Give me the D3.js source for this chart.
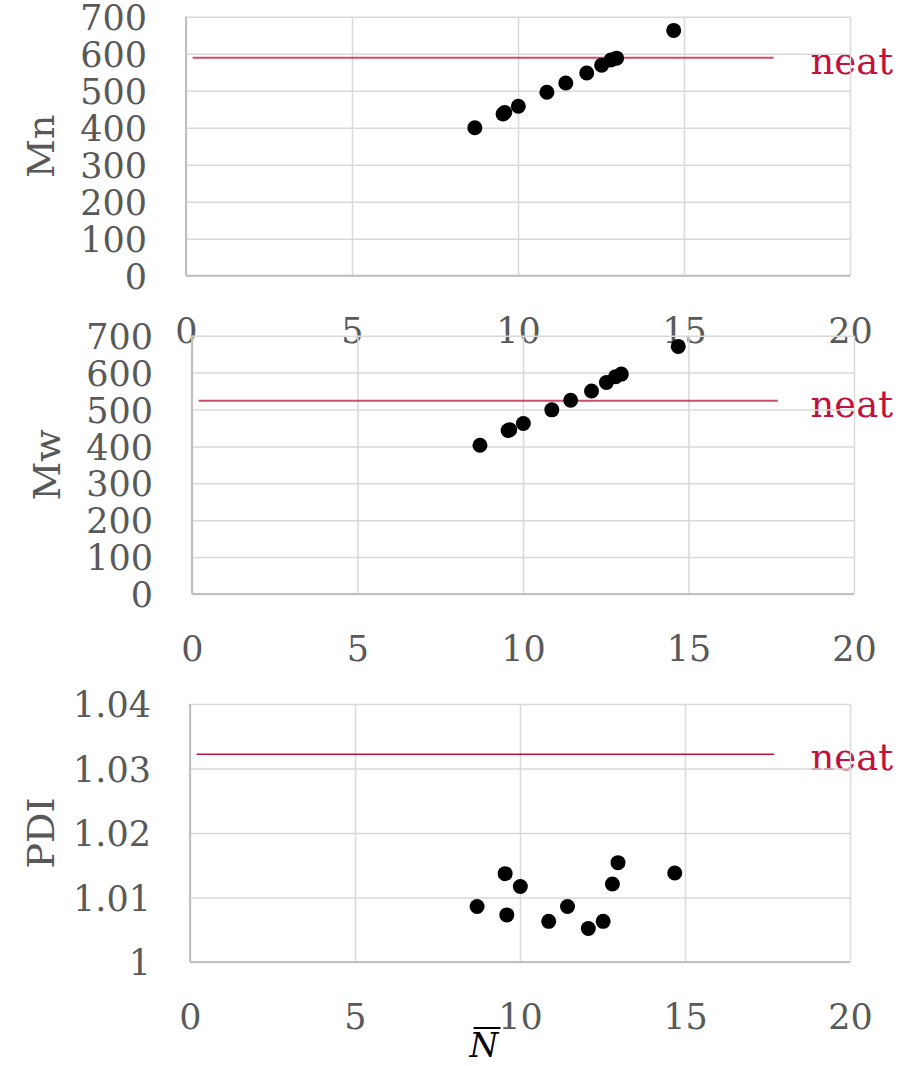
<!DOCTYPE html>
<html>
<head>
<meta charset="utf-8">
<script src="https://cdn.jsdelivr.net/npm/d3@7"></script>
<style>
  html, body { margin: 0; padding: 0; background: #fff; }
  svg { display: block; }
  text { font-family: "DejaVu Serif", "Liberation Serif", serif; }
</style>
</head>
<body>
<svg id="chart" width="922" height="1066"></svg>
<script>
// ---- data ----
const N   = [8.70, 9.55, 9.60, 10.01, 10.87, 11.44, 12.07, 12.52, 12.80, 12.97, 14.69];
const Mn  = [400, 437, 441, 458, 496, 521, 548, 569, 583, 588, 663];
const Mw  = [403, 443, 445, 462, 499, 525, 550, 573, 589, 596, 671];
const PDI = [1.0086, 1.0137, 1.0073, 1.0117, 1.0063, 1.0086, 1.0052, 1.0063, 1.0121, 1.0154, 1.0138];
const neatMn = 589, neatMw = 524, neatPDI = 1.0322;
const neatRange = [0.2, 17.7];
const xTicks = [0, 5, 10, 15, 20];
const mTicks = [0, 100, 200, 300, 400, 500, 600, 700];
const pdiTicks = [1, 1.01, 1.02, 1.03, 1.04];

// ---- layout ----
const panels = [
  {label: "Mn",  vals: Mn,  neat: neatMn,  ydom: [0, 700],   ticks: mTicks,   fmt: d3.format("d"),
   left: 186, right: 850, top: 16.7, bottom: 275.7},
  {label: "Mw",  vals: Mw,  neat: neatMw,  ydom: [0, 700],   ticks: mTicks,   fmt: d3.format("d"),
   left: 192, right: 854, top: 335.7, bottom: 594},
  {label: "PDI", vals: PDI, neat: neatPDI, ydom: [1, 1.04], ticks: pdiTicks, fmt: d => d === 1 ? "1" : d3.format(".2f")(d),
   left: 190, right: 850, top: 704, bottom: 962}
];

const svg = d3.select("#chart");
const gray = "#595959";
const neatColor = "#c0123c";

panels.forEach((p, i) => {
  const x = d3.scaleLinear().domain([0, 20]).range([p.left, p.right]);
  const y = d3.scaleLinear().domain(p.ydom).range([p.bottom, p.top]);
  const g = svg.append("g");

  // neat label (drawn beneath the grid, as in the reference)
  g.append("text")
    .attr("x", 810.5)
    .attr("y", y(p.neat) + 16)
    .attr("fill", neatColor)
    .attr("font-size", 37)
    .text("neat");

  // y grid + labels
  const ya = g.append("g")
    .attr("transform", `translate(${p.left},0)`)
    .call(d3.axisLeft(y).tickValues(p.ticks).tickFormat(p.fmt)
      .tickSize(-(p.right - p.left)).tickPadding(39));
  ya.select(".domain").remove();
  ya.selectAll(".tick line").attr("stroke", "#d9d9d9").attr("stroke-width", 1.5);
  ya.selectAll(".tick text").attr("fill", gray).attr("font-size", 35)
    .attr("font-family", "DejaVu Serif").attr("dy", "0.36em");

  // x grid + labels
  const xa = g.append("g")
    .attr("transform", `translate(0,${p.bottom})`)
    .call(d3.axisBottom(x).tickValues(xTicks).tickFormat(d3.format("d"))
      .tickSize(-(p.bottom - p.top)).tickPadding(42));
  xa.select(".domain").remove();
  xa.selectAll(".tick line").attr("stroke", "#d9d9d9").attr("stroke-width", 1.5);
  xa.selectAll(".tick text").attr("fill", gray).attr("font-size", 35)
    .attr("font-family", "DejaVu Serif");

  // axis lines (left and bottom)
  g.append("line")
    .attr("x1", x(0)).attr("x2", x(0)).attr("y1", y(p.ydom[1])).attr("y2", y(p.ydom[0]))
    .attr("stroke", "#bfbfbf").attr("stroke-width", 2);
  g.append("line")
    .attr("x1", x(0)).attr("x2", x(20)).attr("y1", y(p.ydom[0])).attr("y2", y(p.ydom[0]))
    .attr("stroke", "#bfbfbf").attr("stroke-width", 2);

  // neat reference line
  g.append("line")
    .attr("x1", x(neatRange[0])).attr("x2", x(neatRange[1]))
    .attr("y1", y(p.neat)).attr("y2", y(p.neat))
    .attr("stroke", neatColor)
    .attr("stroke-opacity", i < 2 ? 0.75 : 1)
    .attr("stroke-width", i < 2 ? 2 : 1.4);

  // points
  g.append("g").selectAll("circle")
    .data(N.map((n, k) => ({n, v: p.vals[k]})))
    .join("circle")
    .attr("cx", d => x(d.n))
    .attr("cy", d => y(d.v))
    .attr("r", 7.5)
    .attr("fill", "#000");

  // y axis title
  const cx = i === 1 ? 47 : 41;
  const cy = (p.top + p.bottom) / 2;
  g.append("text")
    .attr("transform", `translate(${cx},${cy}) rotate(-90)`)
    .attr("text-anchor", "middle")
    .attr("dominant-baseline", "central")
    .attr("fill", gray)
    .attr("font-size", 38)
    .text(p.label);
});

// x axis title: N with overline
const nt = svg.append("text")
  .attr("x", 484).attr("y", 1057)
  .attr("text-anchor", "middle")
  .attr("font-style", "italic")
  .attr("font-size", 33)
  .attr("fill", "#000")
  .text("N");
const bb = nt.node().getBBox();
svg.append("line")
  .attr("x1", bb.x + 5).attr("x2", bb.x + bb.width + 1)
  .attr("y1", 1028).attr("y2", 1028)
  .attr("stroke", "#000").attr("stroke-width", 2);
</script>
</body>
</html>
